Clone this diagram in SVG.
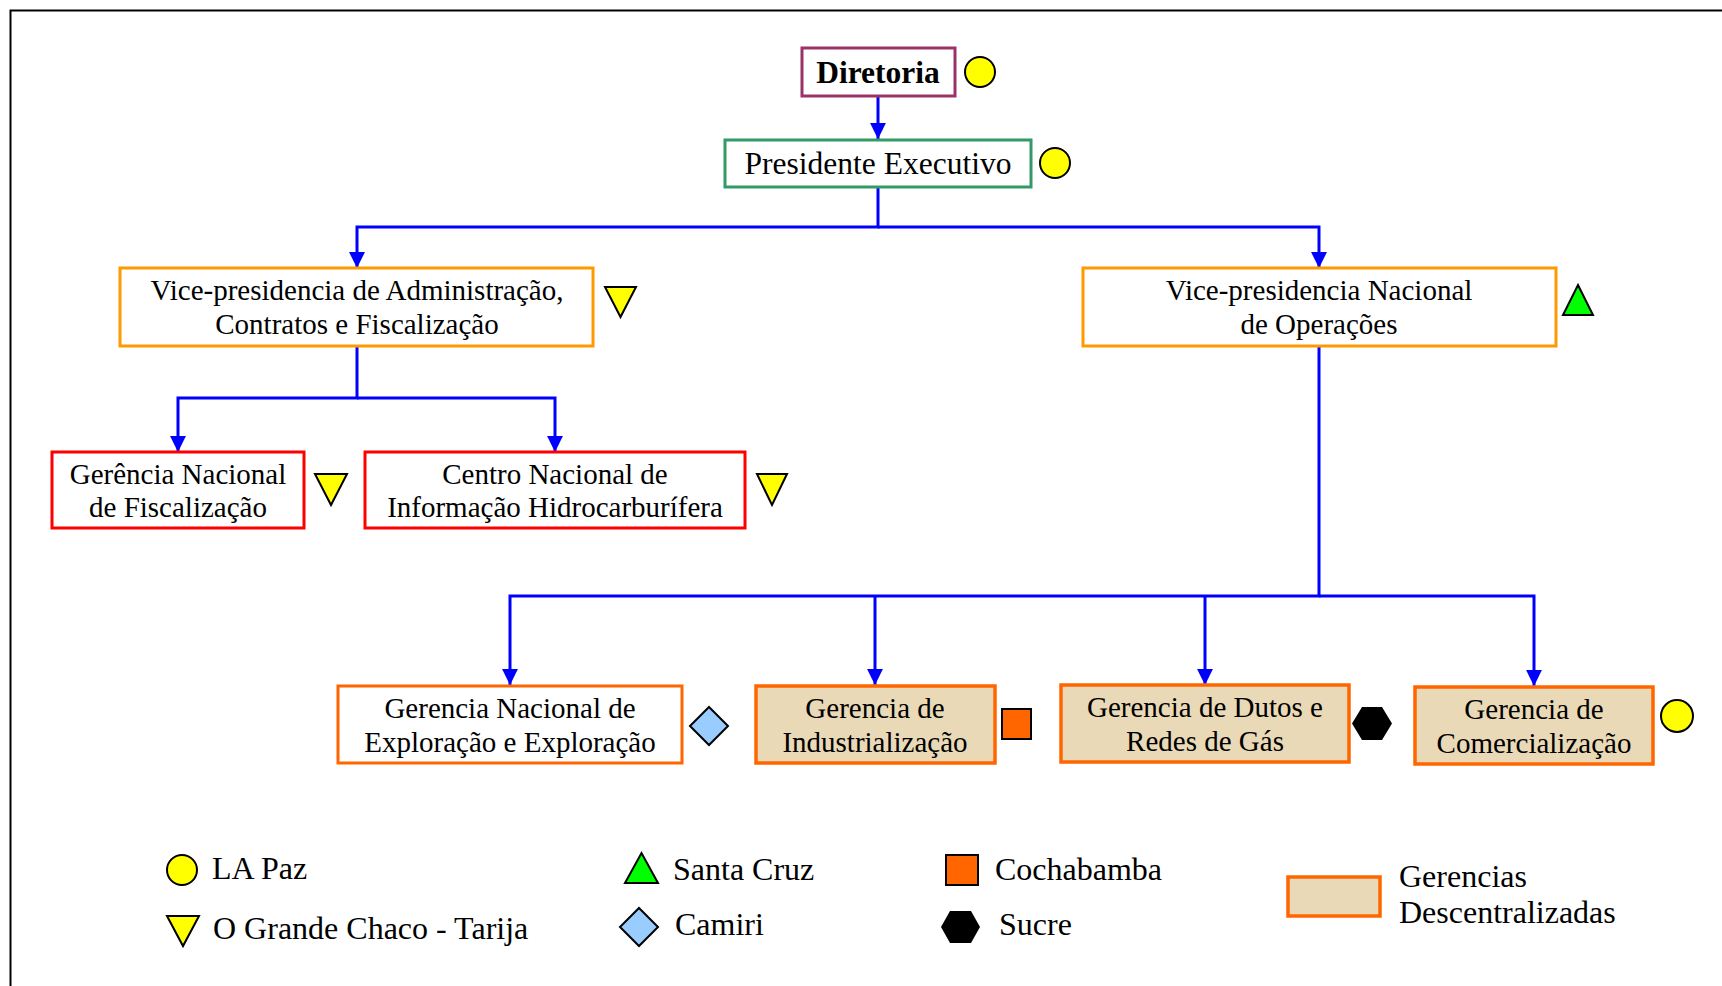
<svg xmlns="http://www.w3.org/2000/svg" width="1722" height="986" viewBox="0 0 1722 986">
<defs>
<style>
text{font-family:"Liberation Serif","Times New Roman",serif;fill:#000;}
.t{font-size:29px;text-anchor:middle;}
.lg{font-size:32px;}
.box{fill:#fff;stroke-width:3;}
.tex{fill:#EAD9B6;stroke:#FF6600;stroke-width:3.5;}
.conn{fill:none;stroke:#0000FF;stroke-width:3;}
.yel{fill:#FFFF00;stroke:#000;stroke-width:2;}
.grn{fill:#00FF00;stroke:#000;stroke-width:2;}
.blu{fill:#99CCFF;stroke:#000;stroke-width:2;}
.org{fill:#FF6600;stroke:#000;stroke-width:2;}
.hex{fill:#000;}
</style>
<marker id="arr" viewBox="0 0 10 10" refX="10" refY="5" markerWidth="5.3" markerHeight="5.3" markerUnits="strokeWidth" orient="auto">
<path d="M0,0 L10,5 L0,10 Z" fill="#0000FF"/>
</marker>
</defs>
<rect x="0" y="0" width="1722" height="986" fill="#fff"/>
<path d="M10.5,986 V10.5 H1722" fill="none" stroke="#000" stroke-width="2"/>

<g id="connectors">
<path class="conn" d="M878,96 V139" marker-end="url(#arr)"/>
<path class="conn" d="M878,187 V227 H357 V268" marker-end="url(#arr)"/>
<path class="conn" d="M878,227 H1319 V268" marker-end="url(#arr)"/>
<path class="conn" d="M357,346 V398 H178 V452" marker-end="url(#arr)"/>
<path class="conn" d="M357,398 H555 V452" marker-end="url(#arr)"/>
<path class="conn" d="M1319,346 V596 H510 V685" marker-end="url(#arr)"/>
<path class="conn" d="M875,596 V685" marker-end="url(#arr)"/>
<path class="conn" d="M1205,596 V685" marker-end="url(#arr)"/>
<path class="conn" d="M1319,596 H1534 V686" marker-end="url(#arr)"/>
</g>

<g id="diretoria">
<rect class="box" x="802" y="48" width="153" height="48" stroke="#993366"/>
<text x="878" y="83" font-size="31.5" font-weight="bold" text-anchor="middle">Diretoria</text>
<circle class="yel" cx="980" cy="72" r="15"/>
</g>

<g id="presidente">
<rect class="box" x="725" y="140" width="306" height="47" stroke="#339966"/>
<text x="878" y="174" font-size="31.5" text-anchor="middle">Presidente Executivo</text>
<circle class="yel" cx="1055" cy="163" r="15"/>
</g>

<g id="vp-admin">
<rect class="box" x="120" y="268" width="473" height="78" stroke="#FF9900"/>
<text class="t" x="357" y="300">Vice-presidencia de Administração,</text>
<text class="t" x="357" y="334">Contratos e Fiscalização</text>
<polygon class="yel" points="605,287 636,287 620.5,317"/>
</g>

<g id="vp-operacoes">
<rect class="box" x="1083" y="268" width="473" height="78" stroke="#FF9900"/>
<text class="t" x="1319" y="300">Vice-presidencia Nacional</text>
<text class="t" x="1319" y="334">de Operações</text>
<polygon class="grn" points="1563,315 1593,315 1578,285"/>
</g>

<g id="ger-fiscalizacao">
<rect class="box" x="52" y="452" width="252" height="76" stroke="#FF0000" stroke-width="3.5"/>
<text class="t" x="178" y="484">Gerência Nacional</text>
<text class="t" x="178" y="517">de Fiscalização</text>
<polygon class="yel" points="315,474 347,474 331,505"/>
</g>

<g id="centro-nacional">
<rect class="box" x="365" y="452" width="380" height="76" stroke="#FF0000" stroke-width="3.5"/>
<text class="t" x="555" y="484">Centro Nacional de</text>
<text class="t" x="555" y="517">Informação Hidrocarburífera</text>
<polygon class="yel" points="757,474 787,474 772,505"/>
</g>

<g id="ger-exploracao">
<rect class="box" x="338" y="686" width="344" height="77" stroke="#FF6600" stroke-width="3.5"/>
<text class="t" x="510" y="718">Gerencia Nacional de</text>
<text class="t" x="510" y="752">Exploração e Exploração</text>
<polygon class="blu" points="709,707 728,726 709,745 690,726"/>
</g>

<g id="ger-industrializacao">
<rect class="tex" x="756" y="686" width="239" height="77"/>
<text class="t" x="875" y="718">Gerencia de</text>
<text class="t" x="875" y="752">Industrialização</text>
<rect class="org" x="1002" y="709" width="29" height="30"/>
</g>

<g id="ger-dutos">
<rect class="tex" x="1061" y="685" width="288" height="77"/>
<text class="t" x="1205" y="717">Gerencia de Dutos e</text>
<text class="t" x="1205" y="751">Redes de Gás</text>
<polygon class="hex" points="1352,723.5 1362,707 1382,707 1392,723.5 1382,740 1362,740"/>
</g>

<g id="ger-comercializacao">
<rect class="tex" x="1415" y="687" width="238" height="77"/>
<text class="t" x="1534" y="719">Gerencia de</text>
<text class="t" x="1534" y="753">Comercialização</text>
<circle class="yel" cx="1677" cy="716" r="16"/>
</g>

<g id="legend">
<circle class="yel" cx="182" cy="870" r="15"/>
<text class="lg" x="212" y="879">LA Paz</text>
<polygon class="yel" points="167,916 199,916 183,946"/>
<text class="lg" x="213" y="939">O Grande Chaco - Tarija</text>
<polygon class="grn" points="625,883 658,883 641.5,853"/>
<text class="lg" x="673" y="880">Santa Cruz</text>
<polygon class="blu" points="639,908 658,927 639,946 620,927"/>
<text class="lg" x="675" y="935">Camiri</text>
<rect class="org" x="946" y="855" width="32" height="30"/>
<text class="lg" x="995" y="880">Cochabamba</text>
<polygon class="hex" points="941,927 950,911 971,911 980,927 971,943 950,943"/>
<text class="lg" x="999" y="935">Sucre</text>
<rect class="tex" x="1288" y="877" width="92" height="39"/>
<text class="lg" x="1399" y="887">Gerencias</text>
<text class="lg" x="1399" y="923">Descentralizadas</text>
</g>
</svg>
